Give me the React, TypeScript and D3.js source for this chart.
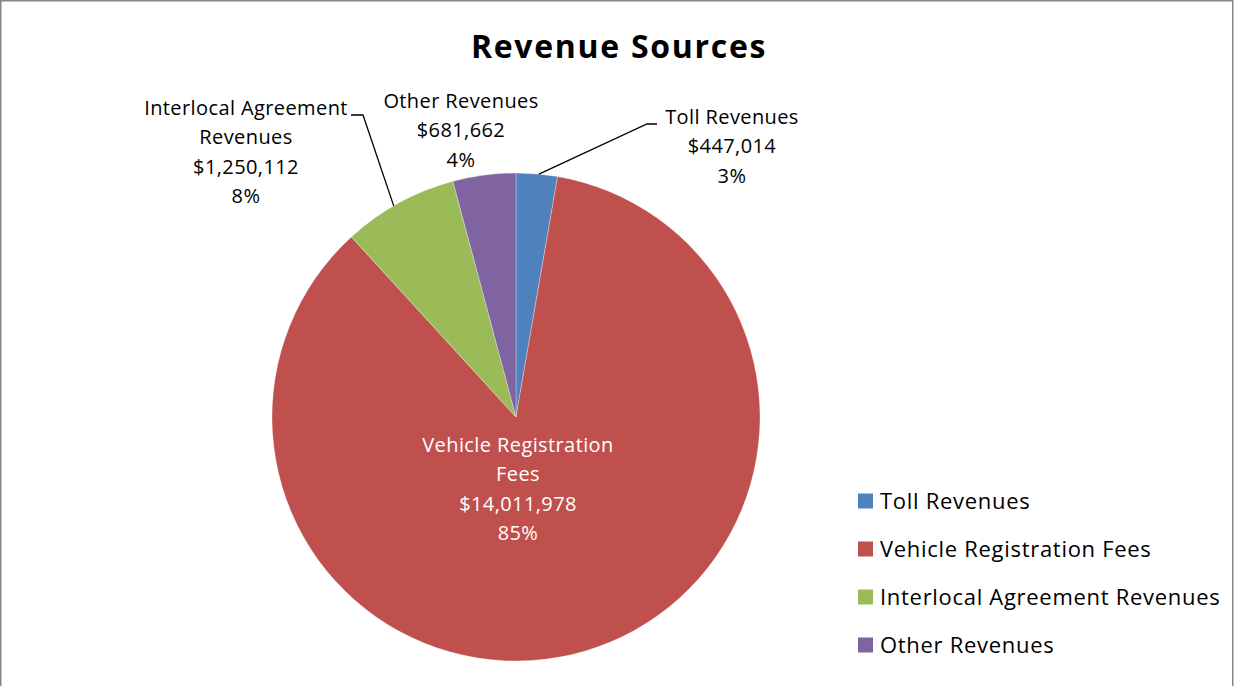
import React from "react";
import * as d3 from "d3";

const categories = ["Toll Revenues", "Vehicle Registration Fees", "Interlocal Agreement Revenues", "Other Revenues"];
const values = [447014, 14011978, 1250112, 681662];
const colors = ["#4F81BD", "#C0504D", "#9BBB59", "#8064A2"];
const title = "Revenue Sources";

const W = 1235, H = 686;
const cx = 516, cy = 417, R = 244;
const FONT = "'Open Sans', Lato, sans-serif";

export default function App() {
  const total = d3.sum(values);
  const pie = d3.pie<number>().sort(null).value((d) => d)(values);
  const arc = d3.arc<d3.PieArcDatum<number>>().innerRadius(0).outerRadius(R);
  const fmt = d3.format("$,");
  const pct = (v: number) => Math.round((v / total) * 100) + "%";

  const labelLines = (i: number) => {
    const name = categories[i];
    if (i === 1) return ["Vehicle Registration", "Fees", fmt(values[i]), pct(values[i])];
    if (i === 2) return ["Interlocal Agreement", "Revenues", fmt(values[i]), pct(values[i])];
    return [name, fmt(values[i]), pct(values[i])];
  };
  const labelPos = [
    { x: 732, y: 124 },
    { x: 518, y: 452 },
    { x: 246, y: 115 },
    { x: 461, y: 108 },
  ];
  const lh = 29.3;

  const pointOnEdge = (i: number, frac: number) => {
    const p = pie[i];
    const a = p.startAngle + (p.endAngle - p.startAngle) * frac;
    return [cx + Math.sin(a) * R, cy - Math.cos(a) * R];
  };
  const tollEdge = pointOnEdge(0, 0.55);
  const interEdge = pointOnEdge(2, 0.45);

  return (
    <svg width={W} height={H} style={{ position: "absolute", left: 0, top: 0 }} fontFamily={FONT}>
      <rect x={0} y={0} width={W} height={H} fill="#fff" />
      <rect x={0.75} y={0.75} width={1232} height={H + 10} fill="none" stroke="#868686" strokeWidth={1.5} />
      <text x={619} y={57.5} textAnchor="middle" fontSize={32} fontWeight="bold" letterSpacing={1.7} fill="#000">{title}</text>
      <g transform={`translate(${cx},${cy})`}>
        {pie.map((p, i) => (
          <path key={i} d={arc(p) || ""} fill={colors[i]} stroke="#fff" strokeOpacity={0.5} strokeWidth={0.6} />
        ))}
      </g>
      <polyline points={`${tollEdge[0]},${tollEdge[1]} 647,124 657,124`} fill="none" stroke="#000" strokeWidth={1.3} />
      <polyline points={`${interEdge[0]},${interEdge[1]} 363,115 351,115`} fill="none" stroke="#000" strokeWidth={1.3} />
      {categories.map((c, i) => (
        <text key={c} x={labelPos[i].x} y={labelPos[i].y} textAnchor="middle" fontSize={20} letterSpacing={0.4} fill={i === 1 ? "#fff" : "#000"}>
          {labelLines(i).map((l, j) => (
            <tspan key={j} x={labelPos[i].x} y={labelPos[i].y + j * lh}>{l}</tspan>
          ))}
        </text>
      ))}
      {categories.map((c, i) => (
        <g key={c} transform={`translate(858,${501 + i * 48})`}>
          <rect x={0} y={-7.5} width={15} height={15} fill={colors[i]} />
          <text x={22} y={8} fontSize={22} letterSpacing={0.7} fill="#000">{c}</text>
        </g>
      ))}
    </svg>
  );
}
